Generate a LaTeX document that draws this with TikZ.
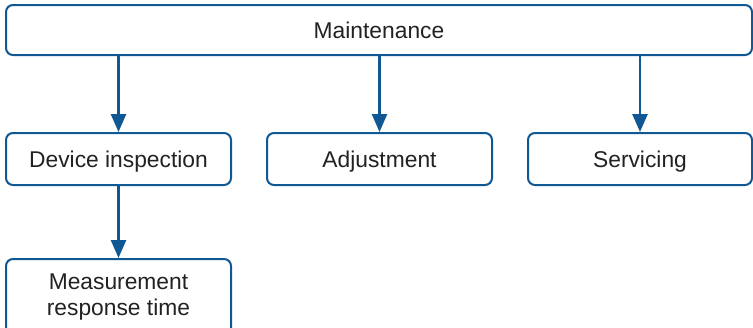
\documentclass[tikz,border=0pt]{standalone}
\usepackage{fontspec}
\setmainfont{Liberation Sans}
\usetikzlibrary{arrows.meta}
\definecolor{boxblue}{RGB}{16,88,148}
\definecolor{txt}{RGB}{34,34,34}
\begin{document}
\begin{tikzpicture}[x=1pt,y=-1pt,
  box/.style={draw=boxblue,line width=2pt,rounded corners=7pt,fill=white,text=txt,
    inner sep=0pt,font=\fontsize{22.8}{26}\selectfont,align=center},
  one/.style={text height=16.3pt,text depth=0pt},
  conn/.style={draw=boxblue,line width=2.6pt,-{Triangle[length=18pt,width=15pt]}}]
\useasboundingbox (0,0) rectangle (753,327);
\begin{scope}
\clip (0,0) rectangle (753,327);
\node[box,one,minimum width=746pt,minimum height=50pt] (m) at (379,30) {Maintenance};
\node[box,one,minimum width=225pt,minimum height=52pt] (d) at (118.5,159) {Device inspection};
\node[box,one,minimum width=225pt,minimum height=52pt] (a) at (379.5,159) {Adjustment};
\node[box,one,minimum width=224pt,minimum height=52pt] (s) at (640,159) {Servicing};
\node[box,minimum width=225pt,minimum height=76pt] (r) at (118.5,297) {Measurement\\response time};
\end{scope}
\draw[conn] (m.south -| d) -- (d.north);
\draw[conn] (m.south -| a) -- (a.north);
\draw[conn] (m.south -| s) -- (s.north);
\draw[conn] (d.south) -- (r.north);
\end{tikzpicture}
\end{document}
